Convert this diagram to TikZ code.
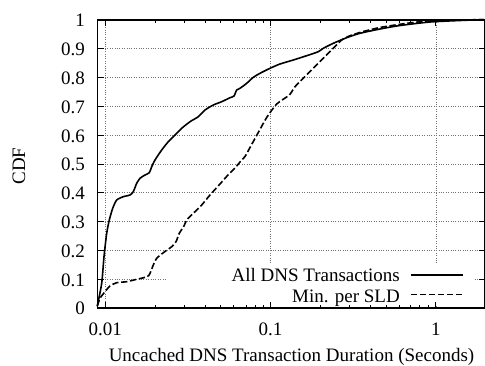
\documentclass[tikz,border=0pt]{standalone}
\usepackage{fontspec}
\setmainfont{Liberation Serif}
\begin{document}
\begin{tikzpicture}[x=1pt,y=-1pt,
  gridline/.style={gray!90!black, line width=0.6pt, dash pattern=on 1pt off 1.4pt},
  frame/.style={line width=1.1pt},
  tickmark/.style={line width=0.9pt},
  curve/.style={line width=1.6pt, line join=round, line cap=round},
  dashcurve/.style={line width=1.6pt, line join=round, dash pattern=on 6.3pt off 2.7pt},
  lbl/.style={font=\fontsize{19}{22}\selectfont, inner sep=0pt}]
\useasboundingbox (0,0) rectangle (485,366);
\def\L{97.7}\def\R{484.6}\def\T{20}\def\B{308}
% grid
\foreach \i in {1,...,9} \draw[gridline] (\L,{308-28.8*\i}) -- (\R,{308-28.8*\i});
\foreach \xx in {105.3,270.6,435.9} \draw[gridline] (\xx,\T) -- (\xx,\B);
% key box hides grid
\fill[white] (167,265) rectangle (474,304);
% frame
\draw[frame] (\L,\T) rectangle (\R,\B);
% y ticks and labels
\foreach \i/\t in {0/0,1/0.1,2/0.2,3/0.3,4/0.4,5/0.5,6/0.6,7/0.7,8/0.8,9/0.9,10/1} {
  \draw[tickmark] (\L,{308-28.8*\i}) -- ++(6,0);
  \draw[tickmark] (\R,{308-28.8*\i}) -- ++(-6,0);
  \node[lbl, anchor=base east] (yl\i) at (85,{308-28.8*\i+7}) {\t};
}
% x major ticks and labels
\foreach \xx/\t/\n in {105.3/0.01/a,270.6/0.1/b,435.9/1/c} {
  \draw[tickmark] (\xx,\B) -- ++(0,-6);
  \draw[tickmark] (\xx,\T) -- ++(0,6);
  \node[lbl, anchor=base] (xl\n) at (\xx,335) {\t};
}
% x minor ticks
\foreach \m in {0.02,0.03,0.04,0.05,0.06,0.07,0.08,0.09,0.2,0.3,0.4,0.5,0.6,0.7,0.8,0.9} {
  \pgfmathsetmacro\xx{105.3+165.3*(log10(\m)+2)}
  \draw[tickmark] (\xx,\B) -- ++(0,-3);
  \draw[tickmark] (\xx,\T) -- ++(0,3);
}
% axis titles
\node[lbl, rotate=90] (ytitle) at (19,166) {CDF};
\node[lbl, anchor=base] (xtitle) at (291.5,361.5) {Uncached DNS Transaction Duration (Seconds)};
% solid curve: All DNS Transactions
\draw[curve] plot[smooth, tension=0.4] coordinates {
(97.3,306) (101.7,283.3) (104,256.7) (106.7,233.3) (109.3,220) (112.7,208.3) (116.7,200)
(123.3,196.7) (130,195) (133.3,191.7) (136.7,183.3) (140,178.3) (145,175) (149.3,172.7)
(151.7,166.7) (155,160) (161.7,150) (168.3,141.7) (175,135) (181.7,128.3) (190,121.7)
(198.3,116.7) (205,110) (213.3,105) (221.7,101.7) (230,97.7) (234,96) (236.7,90) (240,88.3)
(246.7,83.3) (253.3,77.3) (260,73.3) (270,68.3) (280,64) (293.3,60) (306.7,55.7)
(318.3,51.7) (323.3,48.3) (333.3,43.3) (346.7,37.7) (360,33.3) (380,29) (400,25.5)
(430,22) (460,20.5) (484,19.6)};
% dashed curve: Min. per SLD
\draw[dashcurve] plot[smooth, tension=0.4] coordinates {
(97.3,306) (100,298.3) (105,291.7) (110,286) (116.7,282.7) (126.7,281.7) (136.7,279.3)
(147.3,276.7) (150,273.3) (153.3,265) (156.7,258.3) (163.3,252.7) (171.7,246.7) (176,241.7)
(179.3,233.3) (184,226) (186.7,220) (193.3,213.3) (201.7,205) (210,195) (220,184) (228,175)
(235,168) (240,162) (245,156.5) (250,147.5) (258.3,132.5) (266.7,117.5) (276.7,104)
(289.3,95) (295,86.7) (303.3,78.3) (313.3,68.3) (323.3,58.3) (333.3,48.3) (341.7,40)
(350,35.7) (363.3,31.5) (380,27.5) (400,24.3) (420,21.8) (450,20.3) (484,19.6)};
% legend
\node[lbl, anchor=base east] (k1) at (400,282) {All DNS Transactions};
\node[lbl, anchor=base east] (k2) at (400,302) {Min. per SLD};
\coordinate (s1a) at (411,275); \coordinate (s1b) at (462.7,275);
\coordinate (s2a) at (411,294.3); \coordinate (s2b) at (462.7,294.3);
\draw[line width=1.2pt] (s1a) -- (s1b);
\draw[line width=1.2pt, dash pattern=on 6.3pt off 2.7pt] (s2a) -- (s2b);
\end{tikzpicture}
\end{document}
